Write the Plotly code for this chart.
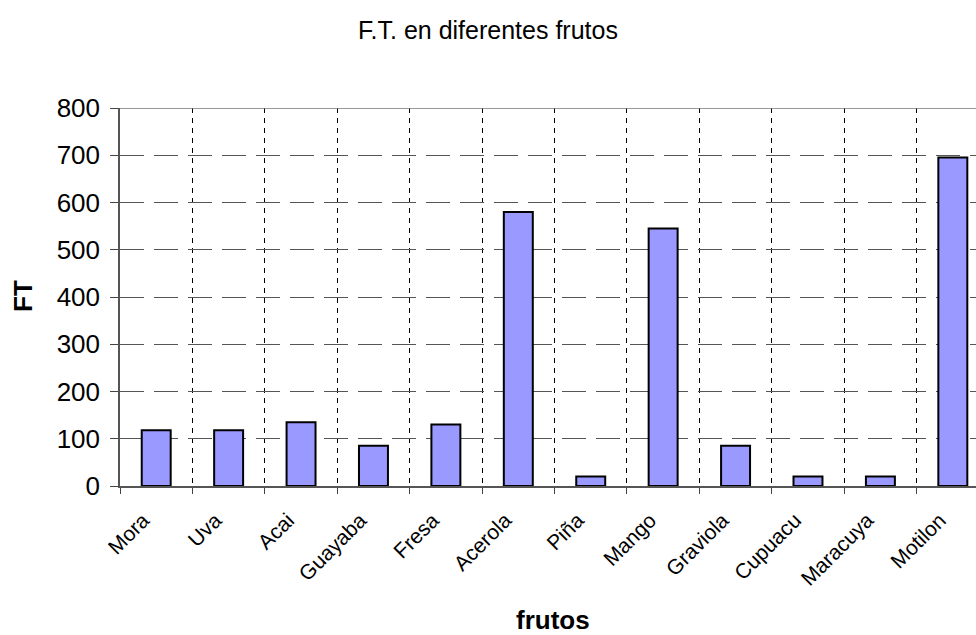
import plotly.graph_objects as go

categories = ["Mora", "Uva", "Acai", "Guayaba", "Fresa", "Acerola", "Piña", "Mango",
              "Graviola", "Cupuacu", "Maracuya", "Motilon"]
ft_values = [118, 118, 135, 85, 130, 580, 20, 545, 85, 20, 20, 695]
y_ticks = [0, 100, 200, 300, 400, 500, 600, 700, 800]

FONT = "Liberation Sans, Arial, sans-serif"

L, T, B = 120, 108, 486
W, H = 976, 635
PW, PH = W - L, B - T

fig = go.Figure()
fig.add_trace(go.Bar(
    x=categories, y=ft_values,
    width=0.4,
    marker=dict(color="#9999FF", line=dict(color="black", width=2)),
))

fig.update_layout(
    width=W, height=H,
    paper_bgcolor="white", plot_bgcolor="white",
    margin=dict(l=L, r=0, t=T, b=H - B),
    showlegend=False,
    title=dict(text="F.T. en diferentes frutos", x=0.5, xanchor="center",
               y=1 - 30 / H, yanchor="middle",
               font=dict(family=FONT, size=25, color="black")),
    xaxis=dict(
        type="category", range=[-0.5, 11.32],
        tickson="boundaries", ticks="outside", ticklen=6, tickcolor="#444",
        showgrid=True, gridcolor="black", griddash="5px,5px", gridwidth=1,
        tickangle=-45, tickfont=dict(family=FONT, size=21, color="black"),
        ticklabelstandoff=12, ticklabelshift=-13,
        showline=True, linecolor="#555", linewidth=1.5,
        zeroline=False,
    ),
    yaxis=dict(
        range=[0, 800], tickvals=y_ticks, ticks="outside", ticklen=8, tickcolor="#444",
        tickfont=dict(family=FONT, size=26, color="black"),
        showgrid=True, gridcolor="#555", griddash="24px,10px", gridwidth=1,
        showline=True, linecolor="#555", linewidth=1.5,
        zeroline=False, ticklabelstandoff=5,
    ),
    font=dict(family=FONT),
)

# top border line at 800
fig.add_shape(type="line", xref="paper", yref="y", x0=0, x1=1, y0=800, y1=800,
              line=dict(color="#777", width=1.5))

fig.add_annotation(text="<b>FT</b>", xref="paper", yref="paper", x=(23 - L) / PW,
                   y=(B - 296) / PH, xanchor="center", yanchor="middle", textangle=-90,
                   showarrow=False, font=dict(family=FONT, size=26, color="black"))
fig.add_annotation(text="<b>frutos</b>", xref="paper", yref="paper", x=(553 - L) / PW,
                   y=-(620 - B) / PH, xanchor="center", yanchor="middle",
                   showarrow=False, font=dict(family=FONT, size=26, color="black"))

fig.write_html("out.html", config={"displayModeBar": False},
               post_script="document.body.style.margin='0';document.body.style.overflow='hidden';")
